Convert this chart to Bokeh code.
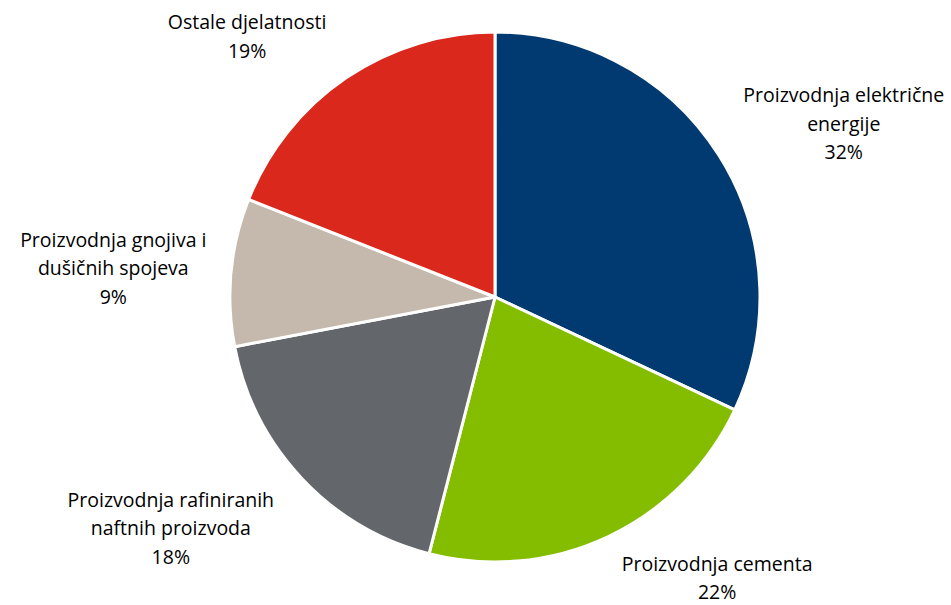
import math
from bokeh.plotting import figure
from bokeh.models import Range1d, ColumnDataSource
from bokeh.core.properties import value
from bokeh.embed import file_html
from bokeh.resources import INLINE

# ---- data ----
categories = [
    "Proizvodnja električne\nenergije",
    "Proizvodnja cementa",
    "Proizvodnja rafiniranih\nnaftnih proizvoda",
    "Proizvodnja gnojiva i\ndušičnih spojeva",
    "Ostale djelatnosti",
]
shares = [32, 22, 18, 9, 19]
colors = ["#003A70", "#84BD00", "#63666A", "#C4B9AC", "#DA291C"]

# ---- layout (pixels) ----
W, H = 951, 605
CX, CY, R = 494.5, 308.5, 265
LABEL_R = 1.3 * 264
label_nudge = [(59, -10), (76, 30), (-74, 4), (-40, -3), (-55, -23)]

total = float(sum(shares))
starts, ends, lx, ly, texts = [], [], [], [], []
cum = 0.0
for cat, s, (dx, dy) in zip(categories, shares, label_nudge):
    c0 = cum / total
    cum += s
    c1 = cum / total
    starts.append(math.pi / 2 - 2 * math.pi * c0)
    ends.append(math.pi / 2 - 2 * math.pi * c1)
    mid = math.pi / 2 - 2 * math.pi * (c0 + c1) / 2
    lx.append(CX + LABEL_R * math.cos(mid) + dx)
    ly.append(CY + LABEL_R * math.sin(mid) + dy)
    texts.append(f"{cat}\n{round(100 * s / total)}%")

src = ColumnDataSource(dict(start=starts, end=ends, color=colors,
                            x=[CX] * len(shares), y=[CY] * len(shares)))
lsrc = ColumnDataSource(dict(x=lx, y=ly, text=texts))

p = figure(width=W, height=H, output_backend="svg", toolbar_location=None,
           x_range=Range1d(0, W), y_range=Range1d(0, H),
           x_axis_location=None, y_axis_location=None, min_border=0)
p.grid.visible = False
p.outline_line_color = None
p.background_fill_color = "white"
p.border_fill_color = "white"

p.wedge(x="x", y="y", radius=R, start_angle="start", end_angle="end",
        direction="clock", fill_color="color", line_color="white",
        line_width=3, source=src)

p.text(x="x", y="y", text="text", source=lsrc, text_align="center",
       text_baseline="middle", text_font=value("Open Sans"),
       text_font_size="19.5px", text_line_height=1.05, text_color="#000000")

open("out.html", "w").write(file_html(p, INLINE))
